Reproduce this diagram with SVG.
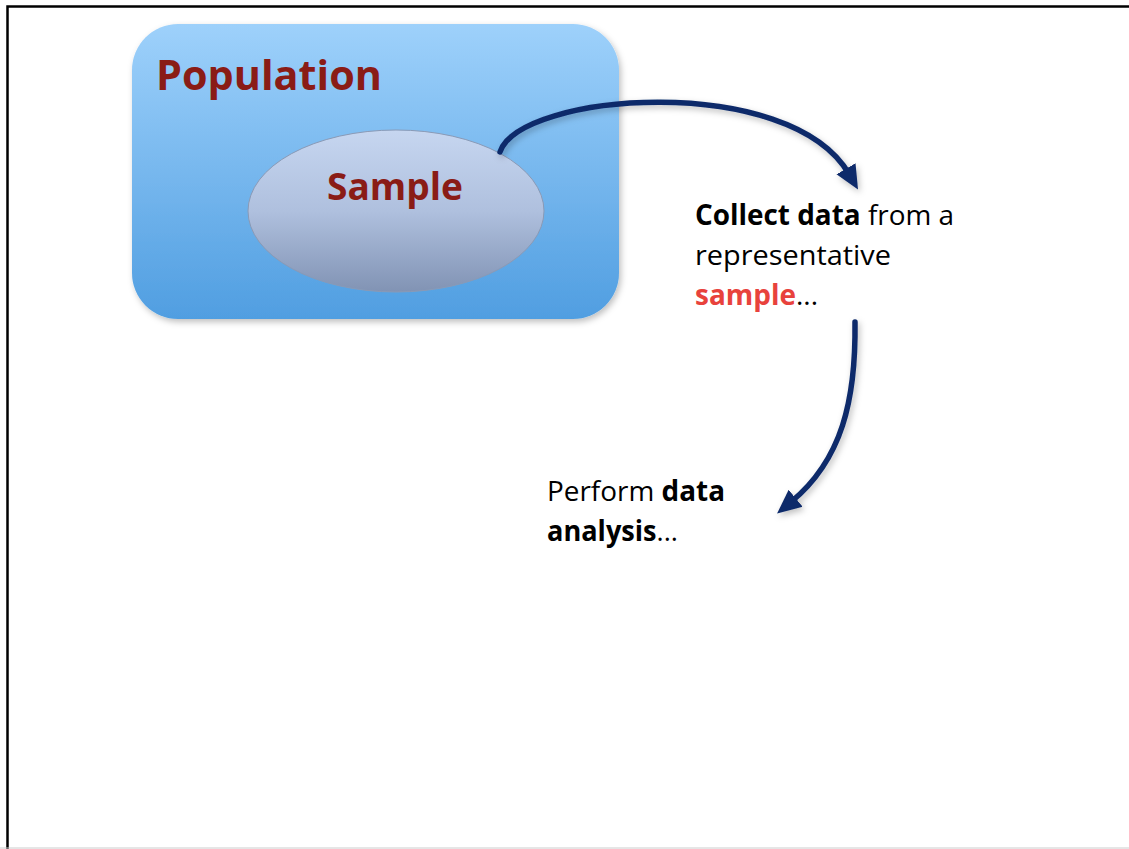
<svg xmlns="http://www.w3.org/2000/svg" width="1129" height="849" viewBox="0 0 1129 849">
<defs>
<linearGradient id="popGrad" x1="0" y1="0" x2="0" y2="1">
<stop offset="0" stop-color="#9ed1fb"/>
<stop offset="1" stop-color="#509ee1"/>
</linearGradient>
<linearGradient id="sampGrad" x1="0" y1="0" x2="0" y2="1">
<stop offset="0" stop-color="#c6d6f0"/>
<stop offset="0.5" stop-color="#afc0de"/>
<stop offset="1" stop-color="#8193b4"/>
</linearGradient>
<filter id="shadow" x="-10%" y="-10%" width="130%" height="130%">
<feDropShadow dx="2" dy="3" stdDeviation="3" flood-color="#000" flood-opacity="0.25"/>
</filter>
<marker id="arrow" markerUnits="userSpaceOnUse" markerWidth="26" markerHeight="26" viewBox="0 0 26 26" refX="6" refY="13" orient="auto">
<path d="M0,2 L24,13 L0,24 Z" fill="#0e2a6a"/>
</marker>
<style>
.title{font-family:"Open Sans","Liberation Sans",sans-serif;font-weight:bold;fill:#8a1c16}
.body{font-family:"Open Sans","Liberation Sans",sans-serif;font-size:28px;fill:#000}
.b{font-weight:bold}
.red{fill:#e8423c;font-weight:bold}
.conn{fill:none;stroke:#0e2a6a;stroke-width:5.5;stroke-linecap:round}
</style>
</defs>
<rect x="0" y="0" width="1129" height="849" fill="#fff"/>
<path d="M7.5,849 V6.5 H1129" fill="none" stroke="#000" stroke-width="2.5"/>
<line x1="0" y1="848" x2="1129" y2="848" stroke="#cccccc" stroke-width="1"/>

<g id="population">
<rect x="132" y="24" width="487" height="295" rx="46" ry="46" fill="url(#popGrad)" filter="url(#shadow)"/>
<text class="title" x="156" y="90" font-size="41" textLength="226" lengthAdjust="spacingAndGlyphs">Population</text>
</g>

<g id="sample">
<ellipse cx="396" cy="211" rx="148" ry="81" fill="url(#sampGrad)" stroke="#8a9ab6" stroke-width="1"/>
<text class="title" x="327" y="200" font-size="38" textLength="136" lengthAdjust="spacingAndGlyphs">Sample</text>
</g>

<g id="collect">
<text class="body" x="695" y="225" textLength="259" lengthAdjust="spacingAndGlyphs"><tspan class="b">Collect data</tspan> from a</text>
<text class="body" x="695" y="265" textLength="196" lengthAdjust="spacingAndGlyphs">representative</text>
<text class="body" x="695" y="305" textLength="123" lengthAdjust="spacingAndGlyphs"><tspan class="red">sample</tspan>...</text>
</g>

<g id="analysis">
<text class="body" x="547" y="501" textLength="178" lengthAdjust="spacingAndGlyphs">Perform <tspan class="b">data</tspan></text>
<text class="body" x="547" y="541" textLength="131" lengthAdjust="spacingAndGlyphs"><tspan class="b">analysis</tspan>...</text>
</g>

<g id="connectors" filter="url(#shadow)">
<path class="conn" d="M500,152 C520,92 790,72 849,174" marker-end="url(#arrow)"/>
<path class="conn" d="M855,322 C856,400 842,460 791,502" marker-end="url(#arrow)"/>
</g>
</svg>
